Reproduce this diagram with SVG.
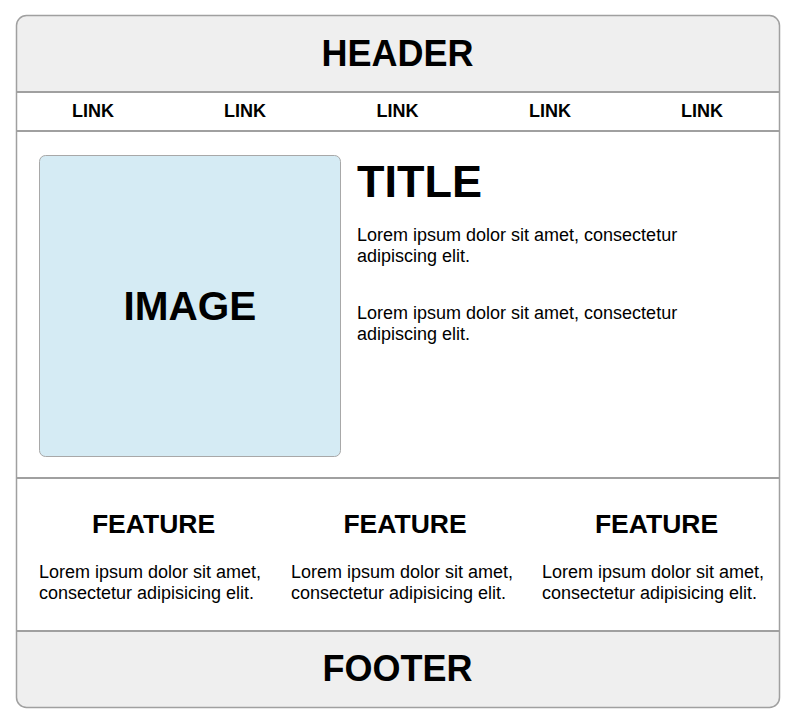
<svg xmlns="http://www.w3.org/2000/svg" width="789" height="714" viewBox="0 0 789 714">
  <defs>
    <clipPath id="frameClip">
      <rect x="16.5" y="15.5" width="763" height="692" rx="10" ry="10"/>
    </clipPath>
  </defs>
  <style>
    text { font-family: "Liberation Sans", Arial, sans-serif; fill: #000; }
    .big { font-size: 36px; font-weight: bold; text-anchor: middle; }
    .link { font-size: 18px; font-weight: bold; text-anchor: middle; }
    .title { font-size: 45px; font-weight: bold; }
    .image { font-size: 40.5px; font-weight: bold; text-anchor: middle; }
    .feat { font-size: 26.5px; font-weight: bold; text-anchor: middle; }
    .body { font-size: 18px; }
    .divider { stroke: #a0a0a0; stroke-width: 2; fill: none; }
    .band { fill: #efefef; }
  </style>

  <!-- page frame -->
  <g id="frame">
    <rect x="16.5" y="15.5" width="763" height="692" rx="10" ry="10" fill="#ffffff"/>
    <g clip-path="url(#frameClip)">
      <rect class="band" x="16" y="15" width="764" height="77"/>
      <rect class="band" x="16" y="631" width="764" height="77"/>
    </g>
  </g>

  <!-- section dividers -->
  <g id="dividers">
    <line class="divider" x1="16.5" y1="92" x2="779.5" y2="92"/>
    <line class="divider" x1="16.5" y1="131" x2="779.5" y2="131"/>
    <line class="divider" x1="16.5" y1="478" x2="779.5" y2="478"/>
    <line class="divider" x1="16.5" y1="631" x2="779.5" y2="631"/>
  </g>

  <rect x="16.5" y="15.5" width="763" height="692" rx="10" ry="10" fill="none" stroke="#a0a0a0" stroke-width="1.5"/>

  <g id="header">
    <text class="big" x="397.5" y="66">HEADER</text>
  </g>

  <g id="nav">
    <text class="link" x="93" y="117">LINK</text>
    <text class="link" x="245" y="117">LINK</text>
    <text class="link" x="397.5" y="117">LINK</text>
    <text class="link" x="550" y="117">LINK</text>
    <text class="link" x="702" y="117">LINK</text>
  </g>

  <g id="image">
    <rect x="39.5" y="155.5" width="301" height="301" rx="6" ry="6" fill="#d5ebf4" stroke="#a8a8a8" stroke-width="1"/>
    <text class="image" x="190" y="320">IMAGE</text>
  </g>

  <g id="intro">
    <text class="title" x="357" y="197">TITLE</text>
    <text class="body" x="357" y="241">Lorem ipsum dolor sit amet, consectetur</text>
    <text class="body" x="357" y="262">adipiscing elit.</text>
    <text class="body" x="357" y="319">Lorem ipsum dolor sit amet, consectetur</text>
    <text class="body" x="357" y="340">adipiscing elit.</text>
  </g>

  <g id="feature-1">
    <text class="feat" x="153.5" y="533">FEATURE</text>
    <text class="body" x="39" y="578">Lorem ipsum dolor sit amet,</text>
    <text class="body" x="39" y="599">consectetur adipisicing elit.</text>
  </g>
  <g id="feature-2">
    <text class="feat" x="405" y="533">FEATURE</text>
    <text class="body" x="291" y="578">Lorem ipsum dolor sit amet,</text>
    <text class="body" x="291" y="599">consectetur adipisicing elit.</text>
  </g>
  <g id="feature-3">
    <text class="feat" x="656.5" y="533">FEATURE</text>
    <text class="body" x="542" y="578">Lorem ipsum dolor sit amet,</text>
    <text class="body" x="542" y="599">consectetur adipisicing elit.</text>
  </g>

  <g id="footer">
    <text class="big" x="397.5" y="681">FOOTER</text>
  </g>
</svg>
